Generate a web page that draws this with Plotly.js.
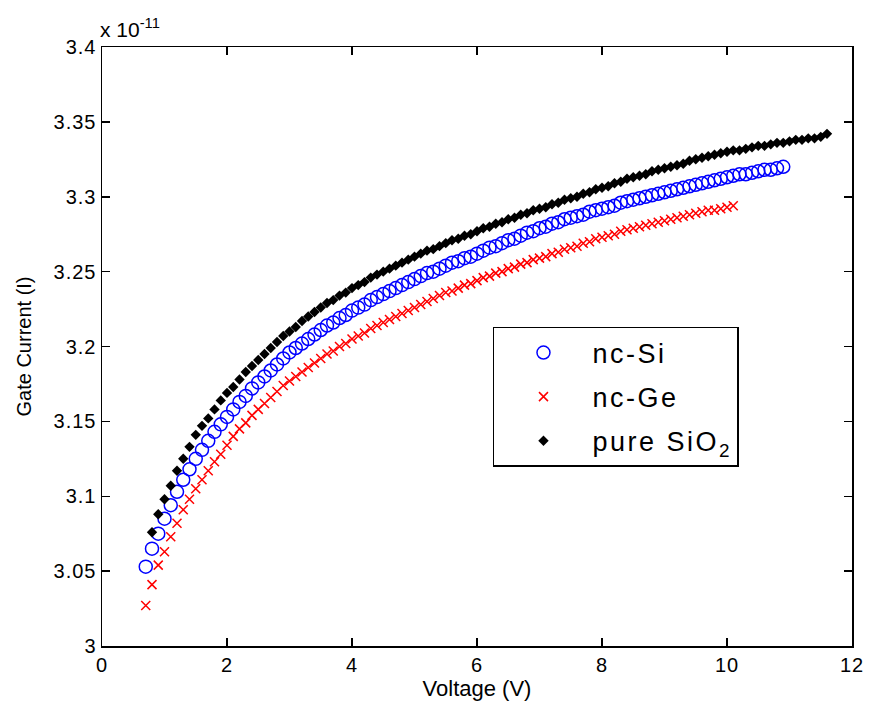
<!DOCTYPE html>
<html>
<head>
<meta charset="utf-8">
<script src="https://cdn.plot.ly/plotly-3.0.1.min.js"></script>
<style>
html,body{margin:0;padding:0;background:#fff;}
#chart{width:870px;height:707px;}
.legendtext{letter-spacing:2.5px;}
.xtick text,.ytick text{letter-spacing:1px;}
</style>
</head>
<body>
<div id="chart"></div>
<script>
// Voltage grid (V) shared by all three series
const voltage = [0.7,0.8,0.9,1.0,1.1,1.2,1.3,1.4,1.5,1.6,1.7,1.8,1.9,2.0,2.1,2.2,2.3,2.4,2.5,2.6,2.7,2.8,2.9,3.0,3.1,3.2,3.3,3.4,3.5,3.6,3.7,3.8,3.9,4.0,4.1,4.2,4.3,4.4,4.5,4.6,4.7,4.8,4.9,5.0,5.1,5.2,5.3,5.4,5.5,5.6,5.7,5.8,5.9,6.0,6.1,6.2,6.3,6.4,6.5,6.6,6.7,6.8,6.9,7.0,7.1,7.2,7.3,7.4,7.5,7.6,7.7,7.8,7.9,8.0,8.1,8.2,8.3,8.4,8.5,8.6,8.7,8.8,8.9,9.0,9.1,9.2,9.3,9.4,9.5,9.6,9.7,9.8,9.9,10.0,10.1,10.2,10.3,10.4,10.5,10.6,10.7,10.8,10.9,11.0,11.1,11.2,11.3,11.4,11.5,11.6];

// Gate current in units of 1e-11 A
// nc-Si: 0.7 .. 10.9 V
const ncSi = [3.053,3.065,3.075,3.085,3.094,3.103,3.111,3.118,3.125,3.131,3.137,3.143,3.148,3.153,3.158,3.163,3.167,3.172,3.176,3.180,3.184,3.188,3.192,3.196,3.199,3.202,3.205,3.208,3.211,3.214,3.216,3.219,3.221,3.224,3.226,3.228,3.231,3.233,3.235,3.237,3.239,3.241,3.243,3.245,3.247,3.249,3.250,3.252,3.254,3.256,3.257,3.259,3.260,3.262,3.264,3.266,3.267,3.269,3.271,3.272,3.274,3.276,3.277,3.279,3.280,3.282,3.283,3.285,3.286,3.287,3.288,3.290,3.291,3.292,3.293,3.294,3.296,3.297,3.298,3.299,3.300,3.301,3.302,3.303,3.304,3.305,3.306,3.307,3.308,3.309,3.310,3.311,3.312,3.313,3.314,3.315,3.315,3.316,3.317,3.318,3.318,3.319,3.320];

// nc-Ge: 0.7 .. 10.1 V
const ncGe = [3.027,3.041,3.054,3.063,3.073,3.082,3.091,3.098,3.105,3.111,3.117,3.123,3.128,3.134,3.140,3.145,3.149,3.154,3.158,3.162,3.166,3.170,3.174,3.177,3.180,3.183,3.186,3.189,3.192,3.195,3.197,3.200,3.202,3.205,3.207,3.209,3.212,3.214,3.216,3.218,3.220,3.222,3.224,3.226,3.228,3.230,3.232,3.234,3.236,3.237,3.239,3.241,3.242,3.244,3.246,3.247,3.249,3.250,3.252,3.253,3.255,3.256,3.258,3.259,3.260,3.262,3.263,3.265,3.266,3.267,3.269,3.270,3.272,3.273,3.274,3.275,3.277,3.278,3.279,3.280,3.281,3.282,3.283,3.284,3.285,3.286,3.287,3.288,3.289,3.290,3.291,3.291,3.292,3.293,3.294];

// pure SiO2: 0.8 .. 11.6 V
const pureSiO2 = [3.076,3.088,3.098,3.107,3.117,3.125,3.133,3.141,3.147,3.152,3.158,3.164,3.169,3.173,3.178,3.183,3.187,3.191,3.195,3.199,3.203,3.207,3.210,3.213,3.217,3.220,3.223,3.226,3.229,3.231,3.234,3.236,3.239,3.241,3.243,3.246,3.248,3.250,3.252,3.254,3.256,3.258,3.260,3.262,3.264,3.265,3.267,3.269,3.271,3.272,3.274,3.275,3.277,3.279,3.280,3.282,3.283,3.285,3.286,3.288,3.289,3.291,3.292,3.293,3.295,3.296,3.298,3.299,3.300,3.302,3.303,3.305,3.306,3.307,3.309,3.310,3.312,3.313,3.314,3.315,3.317,3.318,3.319,3.320,3.321,3.322,3.324,3.325,3.326,3.327,3.328,3.329,3.330,3.331,3.331,3.332,3.333,3.334,3.334,3.335,3.336,3.336,3.337,3.338,3.338,3.339,3.339,3.340,3.342];

const seriesNames = ['nc-Si', 'nc-Ge', 'pure SiO<sub>2</sub>'];
const yTickVals = [3, 3.05, 3.1, 3.15, 3.2, 3.25, 3.3, 3.35, 3.4];
const yTickText = ['3', '3.05', '3.1', '3.15', '3.2', '3.25', '3.3', '3.35', '3.4'];
const xTickVals = [0, 2, 4, 6, 8, 10, 12];

const FONT = 'Liberation Sans, Arial, sans-serif';

const traces = [
  {
    x: voltage.slice(0, ncSi.length), y: ncSi, name: seriesNames[0], legendgroup: 'a',
    type: 'scatter', mode: 'markers',
    marker: {symbol: 'circle-open', size: 13, color: '#0000ff', line: {color: '#0000ff', width: 1.5}}
  },
  {
    x: voltage.slice(0, ncGe.length), y: ncGe, name: seriesNames[1], legendgroup: 'b',
    type: 'scatter', mode: 'markers',
    marker: {symbol: 'x-thin-open', size: 9, color: '#ff0000', line: {color: '#ff0000', width: 1.5}}
  },
  {
    x: voltage.slice(1, 1 + pureSiO2.length), y: pureSiO2, name: seriesNames[2], legendgroup: 'c',
    type: 'scatter', mode: 'markers',
    marker: {symbol: 'diamond', size: 8, color: '#000000'}
  }
];

const axisCommon = {
  showline: true, linecolor: '#000', linewidth: 1.5, mirror: 'ticks',
  ticks: 'inside', ticklen: 8, tickwidth: 1.5, tickcolor: '#000',
  showgrid: false, zeroline: false,
  tickfont: {family: FONT, size: 20, color: '#000'}
};

const layout = {
  width: 870, height: 707,
  margin: {l: 102, r: 18, t: 47, b: 61, pad: 0},
  paper_bgcolor: '#fff', plot_bgcolor: '#fff',
  font: {family: FONT, color: '#000'},
  showlegend: true,
  legend: {
    x: 0.5213, y: 0.5326, xanchor: 'left', yanchor: 'top',
    bordercolor: '#000', borderwidth: 1.5, bgcolor: '#fff',
    font: {family: FONT, size: 27, color: '#000'},
    tracegroupgap: 6, traceorder: 'grouped', itemwidth: 88
  },
  xaxis: Object.assign({}, axisCommon, {
    range: [0, 12], tickvals: xTickVals, ticktext: xTickVals.map(String),
    title: {text: 'Voltage (V)', font: {family: FONT, size: 22, color: '#000'}, standoff: 6}
  }),
  yaxis: Object.assign({}, axisCommon, {
    range: [3, 3.4], tickvals: yTickVals, ticktext: yTickText,
    title: {text: 'Gate Current (I)', font: {family: FONT, size: 20, color: '#000'}, standoff: 16}
  }),
  annotations: [{
    xref: 'paper', yref: 'paper', x: 0, y: 1, xanchor: 'left', yanchor: 'bottom',
    text: 'x 10<sup>-11</sup>', showarrow: false, yshift: 4, xshift: -4,
    font: {family: FONT, size: 21, color: '#000'}
  }]
};

Plotly.newPlot('chart', traces, layout, {displayModeBar: false, staticPlot: true});
</script>
</body>
</html>
